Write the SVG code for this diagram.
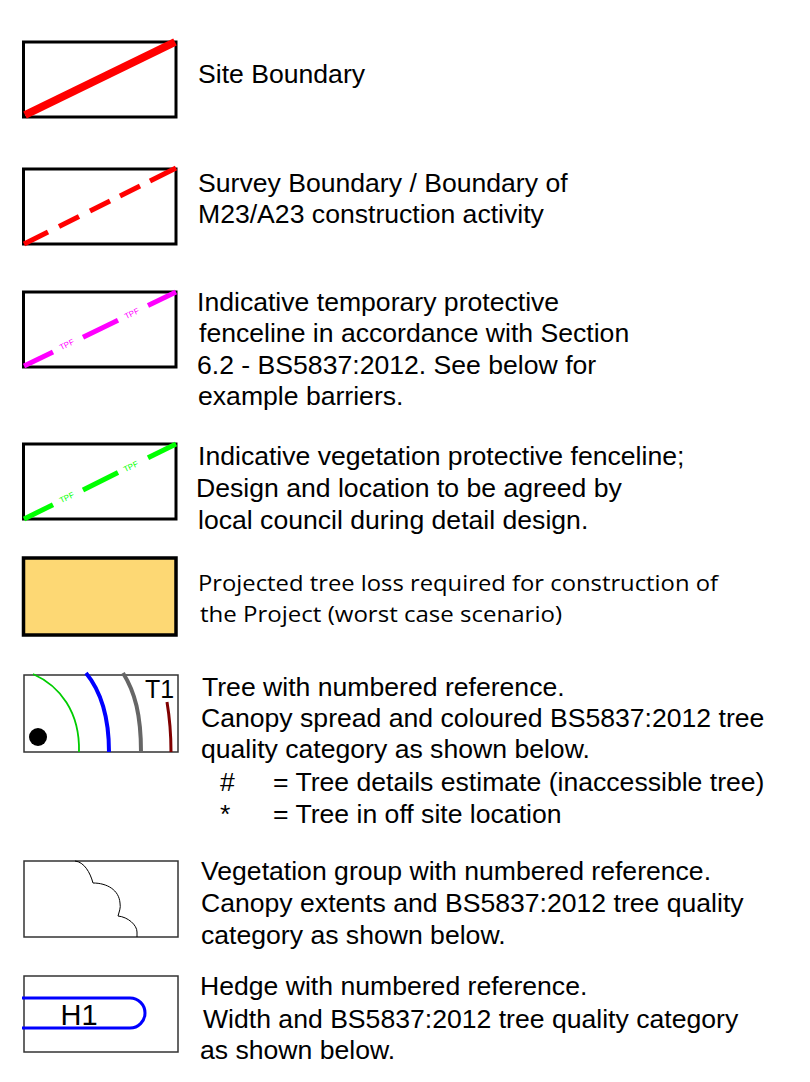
<svg xmlns="http://www.w3.org/2000/svg" width="810" height="1082" viewBox="0 0 810 1082">
<style>
.t{font-family:"Liberation Sans",Arial,sans-serif;font-size:26.6px;fill:#000}
.c{font-family:"Open Sans","Noto Sans",sans-serif;font-size:22px;fill:#000}
.bx{fill:#fff;stroke:#000;stroke-width:3}
.bt{fill:#fff;stroke:#333;stroke-width:1.5}
.tpf{font-family:"Liberation Sans",Arial,sans-serif;font-size:8px;text-anchor:middle}
</style>
<rect width="810" height="1082" fill="#fff"/>
<g id="site-boundary">
<rect class="bx" x="23.5" y="42" width="152.5" height="75"/>
<line x1="25" y1="115" x2="175" y2="42" stroke="#f00" stroke-width="8"/>
<text class="t" x="198" y="83">Site Boundary</text>
</g>
<g id="survey-boundary">
<rect class="bx" x="23.5" y="169" width="152.5" height="75"/>
<g stroke="#f00" stroke-width="5">
<line x1="24" y1="244" x2="48" y2="232"/>
<line x1="59" y1="226.5" x2="79" y2="216.5"/>
<line x1="90" y1="211" x2="110" y2="201"/>
<line x1="120" y1="196" x2="140" y2="186"/>
<line x1="150" y1="181" x2="176" y2="168"/>
</g>
<text class="t" x="198" y="192">Survey Boundary / Boundary of</text>
<text class="t" x="198" y="223">M23/A23 construction activity</text>
</g>
<g id="tpf">
<rect class="bx" x="23.5" y="292" width="152.5" height="75"/>
<g stroke="#f0f" stroke-width="5">
<line x1="24" y1="366" x2="53" y2="351.9"/>
<line x1="83" y1="337.3" x2="118" y2="320.2"/>
<line x1="148" y1="305.6" x2="176" y2="292"/>
</g>
<text class="tpf" fill="#f0f" transform="translate(68,347) rotate(-26)">TPF</text>
<text class="tpf" fill="#f0f" transform="translate(133,316) rotate(-26)">TPF</text>
<text class="t" x="197" y="311">Indicative temporary protective</text>
<text class="t" x="199" y="342">fenceline in accordance with Section</text>
<text class="t" x="197" y="374">6.2 - BS5837:2012. See below for</text>
<text class="t" x="198" y="405">example barriers.</text>
</g>
<g id="vpf">
<rect class="bx" x="23.5" y="444" width="152.5" height="75"/>
<g stroke="#0f0" stroke-width="5">
<line x1="24" y1="519" x2="53" y2="504.7"/>
<line x1="83" y1="489.9" x2="118" y2="472.6"/>
<line x1="148" y1="457.8" x2="176" y2="444"/>
</g>
<text class="tpf" fill="#0f0" transform="translate(68,500) rotate(-26)">TPF</text>
<text class="tpf" fill="#0f0" transform="translate(132,469) rotate(-26)">TPF</text>
<text class="t" x="198" y="465">Indicative vegetation protective fenceline;</text>
<text class="t" x="196" y="497">Design and location to be agreed by</text>
<text class="t" x="198" y="529">local council during detail design.</text>
</g>
<g id="tree-loss">
<rect x="23.5" y="558" width="152.5" height="77" fill="#fdd874" stroke="#000" stroke-width="3.5"/>
<text class="c" x="198" y="591" textLength="520" lengthAdjust="spacingAndGlyphs">Projected tree loss required for construction of</text>
<text class="c" x="200" y="622" textLength="362" lengthAdjust="spacingAndGlyphs">the Project (worst case scenario)</text>
</g>
<g id="tree">
<rect class="bt" x="24" y="675" width="154" height="77"/>
<path d="M33,674 C60,686 80,712 79,752" fill="none" stroke="#0c0" stroke-width="1.8"/>
<path d="M86,673 C100,690 109,715 109,752" fill="none" stroke="#00f" stroke-width="4"/>
<path d="M123,673 C135,692 141,715 141,752" fill="none" stroke="#666" stroke-width="4"/>
<path d="M167,702 C170,720 171,735 171,752" fill="none" stroke="#800000" stroke-width="3"/>
<circle cx="38" cy="737" r="9" fill="#000"/>
<text class="t" x="145" y="698" style="font-size:25px">T1</text>
<text class="t" x="202" y="696">Tree with numbered reference.</text>
<text class="t" x="201" y="727">Canopy spread and coloured BS5837:2012 tree</text>
<text class="t" x="201" y="758">quality category as shown below.</text>
<text class="t" x="220" y="791">#</text>
<text class="t" x="273" y="791">= Tree details estimate (inaccessible tree)</text>
<text class="t" x="220" y="823">*</text>
<text class="t" x="273" y="823">= Tree in off site location</text>
</g>
<g id="vegetation-group">
<rect class="bt" x="24" y="861" width="154" height="76"/>
<path d="M75,861 C84,862 90,872 93,883 C107,883 119,890 120,903 C121,908 119,912 118,916 C128,917 137,925 137,932 L137,937" fill="none" stroke="#000" stroke-width="1"/>
<text class="t" x="201" y="880">Vegetation group with numbered reference.</text>
<text class="t" x="201" y="912">Canopy extents and BS5837:2012 tree quality</text>
<text class="t" x="201" y="944">category as shown below.</text>
</g>
<g id="hedge">
<rect class="bt" x="24" y="976" width="154" height="76"/>
<path d="M22,998 L130,998 A15,15 0 0 1 130,1028 L22,1028" fill="none" stroke="#00f" stroke-width="3"/>
<text class="t" x="79" y="1025" text-anchor="middle" style="font-size:29px">H1</text>
<text class="t" x="200" y="995">Hedge with numbered reference.</text>
<text class="t" x="203" y="1028">Width and BS5837:2012 tree quality category</text>
<text class="t" x="200" y="1059">as shown below.</text>
</g>
</svg>
